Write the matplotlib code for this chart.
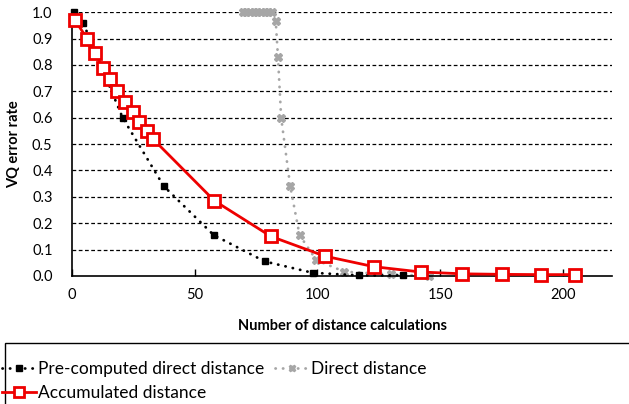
import matplotlib.pyplot as plt
from matplotlib.patches import Rectangle

plt.rcParams['font.family'] = ['Lato', 'DejaVu Sans']

# accumulated distance
acc_x = [1.2, 6.1, 9.3, 12.6, 15.4, 18.3, 21.5, 24.8, 27.2, 30.5, 32.9,
         58, 81, 103, 123, 142, 159, 175, 191, 205]
acc_y = [0.97, 0.90, 0.845, 0.79, 0.745, 0.70, 0.66, 0.62, 0.585, 0.55, 0.52,
         0.285, 0.15, 0.075, 0.035, 0.015, 0.008, 0.006, 0.005, 0.005]

# pre-computed direct distance
pre_x = [1, 4.5, 20.6, 37.4, 57.7, 78.5, 98, 117, 135]
pre_y = [1.0, 0.96, 0.60, 0.34, 0.155, 0.055, 0.012, 0.002, 0.002]

# direct distance
dir_x = [69.5, 71, 72.5, 74, 75.5, 77, 78.5, 80, 81.5, 83, 83.9, 85.2,
         88.9, 92.7, 99.5, 111, 130, 145.5]
dir_y = [1.0, 1.0, 1.0, 1.0, 1.0, 1.0, 1.0, 1.0, 1.0, 0.965, 0.83, 0.60,
         0.34, 0.155, 0.06, 0.016, 0.006, 0.0]

xticks = [0, 50, 100, 150, 200]
yticks = [0.0, 0.1, 0.2, 0.3, 0.4, 0.5, 0.6, 0.7, 0.8, 0.9, 1.0]

fig = plt.figure(figsize=(6.29, 4.04), dpi=100)
ax = fig.add_axes([0.1145, 0.317, 0.8585, 0.653])

for y in yticks[1:]:
    ax.axhline(y, color='black', lw=0.9, ls=(0, (3, 2)), zorder=1)

h_pre, = ax.plot(pre_x, pre_y, color='black', lw=2, ls=(0, (0.1, 2.6)),
                 dash_capstyle='round', marker='s', ms=5, clip_on=False,
                 zorder=3)
h_dir, = ax.plot(dir_x, dir_y, color='#a6a6a6', lw=2, ls=(0, (0.1, 2.6)),
                 dash_capstyle='round', marker='X', ms=6, clip_on=False,
                 zorder=2)
h_acc, = ax.plot(acc_x, acc_y, color='#ee0000', lw=2, marker='s', ms=9,
                 mfc='white', mec='#ee0000', mew=2, clip_on=False, zorder=4)

ax.set_xlim(0, 220)
ax.set_ylim(0, 1.0)
ax.set_xticks(xticks)
ax.set_yticks(yticks)
ax.set_yticklabels(['%.1f' % v for v in yticks])
ax.tick_params(axis='x', direction='in', length=5, width=1, pad=9,
               labelsize=10.5)
ax.tick_params(axis='y', length=0, pad=14, labelsize=10.5)
ax.spines['top'].set_visible(False)
ax.spines['right'].set_visible(False)
ax.spines['left'].set_linewidth(1.2)
ax.spines['bottom'].set_linewidth(1.2)

ax.set_xlabel('Number of distance calculations', fontsize=10.5,
              fontweight='bold', labelpad=12)
ax.set_ylabel('VQ error rate', fontsize=10.5, fontweight='bold', labelpad=8)

# legend box like the spreadsheet one
fig.patches.append(Rectangle((5 / 629, -0.05), 1.0, 0.2, transform=fig.transFigure,
                             fill=False, edgecolor='black', lw=1))
fig.legend([h_pre, h_acc, h_dir],
           ['Pre-computed direct distance', 'Accumulated distance',
            'Direct distance'],
           ncol=2, loc='upper left', bbox_to_anchor=(0.0, 0.11),
           frameon=False, fontsize=12.5, handlelength=2.0, markerscale=0.8,
           handletextpad=0.1, columnspacing=0.6, labelspacing=0.45,
           borderaxespad=0, borderpad=0.1)

fig.savefig('out.png', dpi=100)
